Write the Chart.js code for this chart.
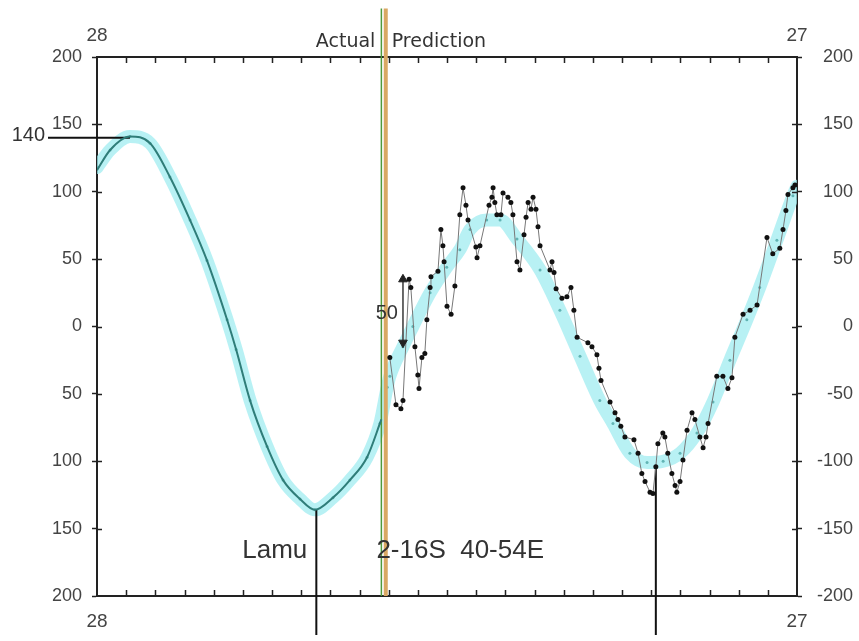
<!DOCTYPE html>
<html>
<head>
<meta charset="utf-8">
<script src="https://cdn.jsdelivr.net/npm/chart.js@4.4.1/dist/chart.umd.min.js"></script>
<style>
  html, body { margin: 0; padding: 0; background: #fff; }
</style>
</head>
<body>
<canvas id="chart" width="859" height="641"></canvas>
<script>
// x runs along the record in tick steps (0..24), y is the anomaly (-200..200)
let endLabels = ["28", "27"];

// smooth cycle (light cyan band), actual + predicted part
let bandX = [0, 0.45, 1.13, 1.82, 2.5, 3.19, 3.77, 4.46, 4.77, 5.25, 5.83, 6.38, 6.96, 7.47, 8.09, 8.67, 9.26, 9.7,
  9.95, 10.04, 10.49, 10.83, 11.42, 11.99, 12.44, 12.79, 13.36, 13.82, 14.4, 15.19, 15.87, 16.56, 17.24, 17.69,
  18.27, 18.86, 19.41, 19.99, 20.57, 21.12, 21.7, 22.28, 22.72, 23.31, 23.86, 24];
let bandY = [118, 131, 141, 136, 111, 79, 49, 5, -17, -55, -89, -114, -128, -136, -127, -114, -97, -72,
  -45, -37, -15, 0, 25, 44, 57, 72, 79, 79, 65, 42, 12, -22, -55, -72,
  -94, -101, -100, -94, -79, -56, -25, 5, 29, 64, 97, 104];

// actual record (dark teal line)
let actualX = [0, 0.45, 1.13, 1.82, 2.5, 3.19, 3.77, 4.46, 4.77, 5.25, 5.83, 6.38, 6.96, 7.47, 8.09, 8.67, 9.26, 9.75];
let actualY = [116, 131, 141, 136, 111, 79, 49, 5, -17, -55, -89, -114, -128, -136, -127, -114, -97, -69];

// prediction with the short-term wiggles (black dots)
let predX = [10.04, 10.25, 10.42, 10.49, 10.70, 10.76, 10.90, 11.00, 11.04, 11.14, 11.24, 11.31, 11.42, 11.45, 11.69,
  11.79, 11.86, 11.90, 12.00, 12.14, 12.27, 12.44, 12.55, 12.65, 12.72, 12.99, 13.03, 13.13, 13.44, 13.54, 13.58,
  13.64, 13.71, 13.85, 13.92, 14.09, 14.19, 14.26, 14.40, 14.50, 14.64, 14.71, 14.78, 14.88, 14.95, 15.05, 15.12,
  15.19, 15.53, 15.60, 15.67, 15.74, 15.94, 16.11, 16.25, 16.35, 16.46, 16.83, 16.97, 17.14, 17.21, 17.28, 17.59,
  17.76, 17.86, 17.96, 18.10, 18.41, 18.55, 18.68, 18.79, 18.96, 19.06, 19.16, 19.23, 19.40, 19.47, 19.57, 19.71,
  19.82, 19.88, 19.99, 20.09, 20.23, 20.40, 20.50, 20.67, 20.78, 20.88, 20.95, 21.25, 21.46, 21.63, 21.77, 21.87,
  22.15, 22.39, 22.63, 22.97, 23.17, 23.41, 23.52, 23.62, 23.69, 23.86, 23.93];
let predY = [-23, -58, -61, -55, 35, 29, -15, -36, -46, -23, -20, 5, 29, 37, 41,
  72, 60, 48, 15, 9, 30, 83, 103, 90, 79, 59, 51, 60, 90, 96, 103,
  92, 83, 83, 99, 96, 92, 83, 48, 42, 68, 81, 92, 87, 96, 87, 74,
  60, 42, 48, 40, 28, 21, 22, 29, 12, -8, -12, -15, -21, -31, -40, -56,
  -64, -69, -74, -82, -84, -94, -109, -115, -123, -124, -104, -87, -79, -82, -94, -109,
  -118, -123, -115, -99, -77, -64, -69, -82, -90, -82, -72, -37, -37, -46, -38, -8,
  9, 12, 16, 66, 54, 58, 72, 86, 98, 103, 105];

// markers
let splitX = [9.75, 9.9];       // actual | prediction
let lineTop = 236, lineBottom = -200;
let lamuX = 7.52, lamuTop = -136;
let markX = 19.16, markTop = -104;
let stemBottom = -229;
let level140 = 140, levelFrom = -1.68, levelTo = 1.13;
let arrowX = 10.49, arrowFrom = 35, arrowTo = -12;

function pts(xs, ys) {
  return xs.map((x, i) => ({ x: x, y: ys[i] }));
}

let textColor = "#333";

let overlay = {
  id: "overlay",
  afterDraw(chart) {
    let ctx = chart.ctx;
    let xs = chart.scales.x;
    let ys = chart.scales.y;
    let a = chart.chartArea;

    ctx.save();
    ctx.strokeStyle = "#222";
    ctx.lineWidth = 1.5;
    // inner ticks on top/bottom
    for (let u = 1; u < 24; u++) {
      let px = Math.round(xs.getPixelForValue(u)) + 0.5;
      ctx.beginPath();
      ctx.moveTo(px, a.top); ctx.lineTo(px, a.top + 6);
      ctx.moveTo(px, a.bottom); ctx.lineTo(px, a.bottom - 6);
      ctx.stroke();
    }
    // inner half of the y ticks
    for (let v = -150; v <= 150; v += 50) {
      let py = Math.round(ys.getPixelForValue(v)) + 0.5;
      ctx.beginPath();
      ctx.moveTo(a.left, py); ctx.lineTo(a.left + 5, py);
      ctx.moveTo(a.right, py); ctx.lineTo(a.right - 5, py);
      ctx.stroke();
    }

    ctx.fillStyle = textColor;
    ctx.textBaseline = "alphabetic";

    ctx.font = "19px 'DejaVu Sans'";
    ctx.textAlign = "right";
    ctx.fillText("Actual", xs.getPixelForValue(splitX[0]) - 6, a.top - 10);
    ctx.textAlign = "left";
    ctx.fillText("Prediction", xs.getPixelForValue(splitX[1]) + 6, a.top - 10);

    ctx.font = "26px 'Liberation Sans'";
    ctx.textAlign = "right";
    ctx.fillText("Lamu", xs.getPixelForValue(lamuX) - 9, ys.getPixelForValue(-172));
    ctx.textAlign = "left";
    ctx.fillText("2-16S  40-54E", xs.getPixelForValue(splitX[0]) - 5, ys.getPixelForValue(-172));

    ctx.font = "20px 'Liberation Sans'";
    ctx.textAlign = "right";
    ctx.textBaseline = "middle";
    ctx.fillText("140", 45, ys.getPixelForValue(level140) - 2);
    ctx.fillText("50", xs.getPixelForValue(arrowX) - 5, ys.getPixelForValue(10));
    ctx.restore();
  }
};

let xAxis = (pos, h) => ({
  type: "linear",
  position: pos,
  min: 0,
  max: 24,
  grid: { display: false },
  border: { display: true, color: "#222", width: 2 },
  ticks: {
    stepSize: 1,
    autoSkip: false,
    maxRotation: 0,
    padding: pos === "top" ? 2 : 6,
    color: "#444",
    font: { family: "Liberation Sans", size: 19 },
    callback: v => v === 0 ? endLabels[0] : (v === 24 ? endLabels[1] : "")
  },
  afterFit: s => { s.height = h; }
});

let yAxis = (pos, w) => ({
  type: "linear",
  position: pos,
  min: -200,
  max: 200,
  grid: { display: true, drawOnChartArea: false, drawTicks: true, tickLength: 5, tickColor: "#222", tickWidth: 1.5 },
  border: { display: true, color: "#222", width: 2 },
  ticks: {
    stepSize: 50,
    padding: 10,
    color: "#444",
    crossAlign: pos === "right" ? "far" : "near",
    font: { family: "Liberation Sans", size: 18 },
    callback: v => pos === "left" ? String(Math.abs(v)) : String(v)
  },
  afterFit: s => { s.width = w; }
});

let chart = new Chart(document.getElementById("chart"), {
  type: "line",
  data: {
    datasets: [
      {
        label: "arrow",
        data: [{ x: arrowX, y: arrowFrom }, { x: arrowX, y: arrowTo }],
        borderColor: "#555",
        borderWidth: 1,
        pointStyle: "triangle",
        pointRotation: [0, 180],
        pointRadius: 5,
        pointBackgroundColor: "#222",
        pointBorderColor: "#222",
        order: 0
      },
      {
        label: "prediction",
        data: pts(predX, predY),
        borderColor: "#777",
        borderWidth: 1,
        pointRadius: 2.5,
        pointBackgroundColor: "#111",
        pointBorderColor: "#111",
        pointBorderWidth: 0,
        tension: 0,
        order: 1
      },
      {
        label: "actual",
        data: pts(actualX, actualY),
        borderColor: "#2f7d79",
        borderWidth: 2,
        pointRadius: 0,
        cubicInterpolationMode: "monotone",
        order: 2
      },
      {
        label: "green",
        data: [{ x: splitX[0], y: lineTop }, { x: splitX[0], y: lineBottom }],
        borderColor: "#4f9a3c",
        borderWidth: 1.5,
        pointRadius: 0,
        clip: false,
        order: 3
      },
      {
        label: "orange",
        data: [{ x: splitX[1], y: lineTop }, { x: splitX[1], y: lineBottom }],
        borderColor: "#d9a863",
        borderWidth: 4,
        pointRadius: 0,
        clip: false,
        order: 3
      },
      {
        label: "lamu",
        data: [{ x: lamuX, y: lamuTop }, { x: lamuX, y: stemBottom }],
        borderColor: "#111",
        borderWidth: 2,
        pointRadius: 0,
        clip: false,
        order: 3
      },
      {
        label: "mark",
        data: [{ x: markX, y: markTop }, { x: markX, y: stemBottom }],
        borderColor: "#111",
        borderWidth: 2,
        pointRadius: 0,
        clip: false,
        order: 3
      },
      {
        label: "level",
        data: [{ x: levelFrom, y: level140 }, { x: levelTo, y: level140 }],
        borderColor: "#111",
        borderWidth: 2,
        pointRadius: 0,
        clip: false,
        order: 3
      },
      {
        label: "band",
        data: pts(bandX, bandY),
        borderColor: "rgba(160,236,240,0.75)",
        borderWidth: 13,
        borderCapStyle: "round",
        borderJoinStyle: "round",
        pointRadius: 1.5,
        pointBackgroundColor: "#62b4b4",
        pointBorderWidth: 0,
        cubicInterpolationMode: "monotone",
        order: 5
      }
    ]
  },
  options: {
    responsive: false,
    animation: false,
    events: [],
    layout: { padding: { left: 0, right: 6, top: 0, bottom: 0 } },
    plugins: { legend: { display: false }, tooltip: { enabled: false } },
    scales: {
      x: xAxis("bottom", 45),
      x2: xAxis("top", 57),
      y: yAxis("left", 97),
      y2: yAxis("right", 56)
    }
  },
  plugins: [overlay]
});
</script>
</body>
</html>
